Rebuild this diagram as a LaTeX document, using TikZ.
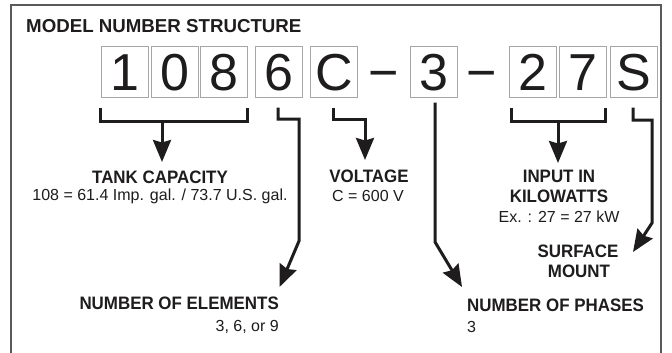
\documentclass[tikz,border=0pt]{standalone}
\usepackage{fontspec}
\setmainfont{Liberation Sans}
\newfontfamily\condbold[FakeStretch=0.94]{Liberation Sans Bold}
\usetikzlibrary{arrows.meta,calc}
\definecolor{ink}{HTML}{1E1C1D}
\definecolor{boxgray}{HTML}{A6A6A6}
\definecolor{framegray}{HTML}{5A5A5A}
\begin{document}
\begin{tikzpicture}[x=1pt,y=-1pt,
  digitbox/.style={draw=boxgray, line width=1pt, minimum width=47pt, minimum height=50pt,
    inner sep=0pt, text height=37.2pt, text depth=0pt, text=ink,
    font=\fontsize{52}{52}\selectfont},
  dashsign/.style={inner sep=0pt, anchor=base, text=ink, font=\fontsize{52}{52}\selectfont},
  boldlabel/.style={inner sep=0pt, text=ink, font=\condbold\fontsize{18}{20}\selectfont},
  plainlabel/.style={inner sep=0pt, text=ink, font=\fontsize{16}{19}\selectfont},
  conn/.style={draw=ink, line width=3pt, line join=miter},
  arr/.style={conn, -{Stealth[length=22pt, width=18pt, inset=2.5pt]}},
  frame/.style={draw=framegray, line width=1.6pt}
]
\useasboundingbox (0,0) rectangle (672,353);
\fill[white] (0,0) rectangle (672,353);
\draw[frame] (11,356) -- (11,5) -- (661,5) -- (661,356);

\node[inner sep=0pt, anchor=base west, text=ink, font=\fontsize{18.7}{20}\selectfont\bfseries]
  (title) at (26,33) {MODEL NUMBER STRUCTURE};

% digit boxes
\node[digitbox] (b1) at (124.5,72) {1};
\node[digitbox] (b0) at (174.5,72) {0};
\node[digitbox] (b8) at (223.5,72) {8};
\node[digitbox] (b6) at (278.5,72) {6};
\node[digitbox] (bC) at (334,72) {C};
\node[dashsign] (m1) at (383.5,90.6) {−};
\node[digitbox] (b3) at (434,72) {3};
\node[dashsign] (m2) at (481.5,90.6) {−};
\node[digitbox] (b2) at (533,72) {2};
\node[digitbox] (b7) at (583,72) {7};
\node[digitbox] (bS) at (633.5,72) {S};

% labels
\node[boldlabel, anchor=base] (tank1) at (160,183) {TANK CAPACITY};
\node[plainlabel, anchor=base] (tank2) at (160,200.5) {108 = 61.4 Imp. gal. / 73.7 U.S. gal.};
\node[boldlabel, anchor=base] (volt1) at (369,182) {VOLTAGE};
\node[plainlabel, anchor=base] (volt2) at (368,201) {C = 600 V};
\node[boldlabel, anchor=base] (inp1) at (559,182) {INPUT IN};
\node[boldlabel, anchor=base] (inp2) at (559,202) {KILOWATTS};
\node[plainlabel, anchor=base] (inp3) at (559,222) {Ex. : 27 = 27 kW};
\node[boldlabel, anchor=base] (surf1) at (578,257) {SURFACE};
\node[boldlabel, anchor=base] (surf2) at (579,277) {MOUNT};
\node[boldlabel, anchor=base east] (elem1) at (279,309) {NUMBER OF ELEMENTS};
\node[plainlabel, anchor=base east] (elem2) at (279,331) {3, 6, or 9};
\node[boldlabel, anchor=base west] (phase1) at (467,311) {NUMBER OF PHASES};
\node[plainlabel, anchor=base west] (phase2) at (467,332) {3};

% connector points
\coordinate (k108) at (162,121);
\coordinate (k6a) at (299,119);
\coordinate (k6b) at (299,241);
\coordinate (kCa) at (365,119);
\coordinate (k3b) at (435,242);
\coordinate (k27) at (558,121);
\coordinate (kSa) at (652,120);
\coordinate (kSb) at (652,223);
\coordinate (tip6) at (279.5,287);
\coordinate (tip3) at (462,287);
\coordinate (tipS) at (633,252);

% brackets and arrows
\draw[conn] ($(b1.south west)+(0,10)$) |- ($(b8.south east)+(0,24)$) -- ($(b8.south east)+(0,10)$);
\draw[arr] (k108) -- (k108 |- 0,162);
\draw[arr] ($(b6.south)+(-0.5,10)$) |- (k6a) -- (k6b) -- (tip6);
\draw[arr] ($(bC.south)+(-1,10)$) |- (kCa) -- (kCa |- 0,160);
\draw[arr] ($(b3.south)+(1,5)$) -- (k3b) -- (tip3);
\draw[conn] ($(b2.south west)+(2,10)$) |- ($(b7.south east)+(-2,24)$) -- ($(b7.south east)+(-2,10)$);
\draw[arr] (k27) -- (k27 |- 0,163);
\draw[arr] ($(bS.south)+(-0.5,10)$) |- (kSa) -- (kSb) -- (tipS);
\end{tikzpicture}
\end{document}
